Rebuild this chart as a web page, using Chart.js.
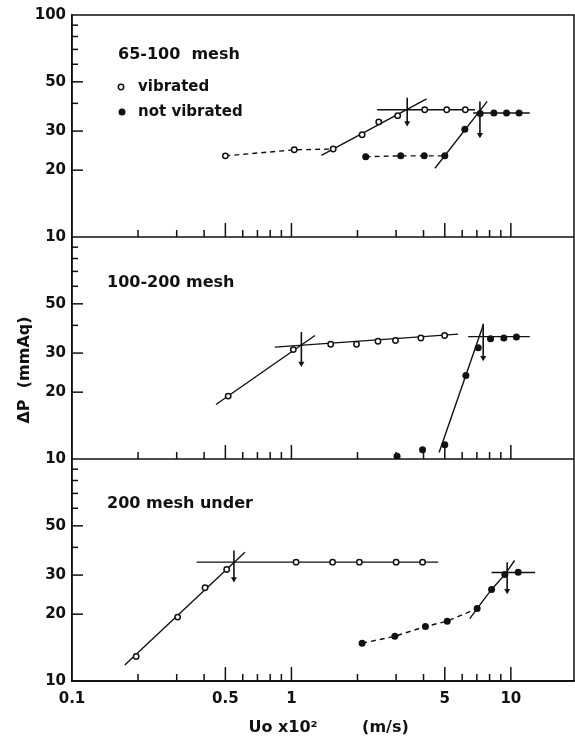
<!DOCTYPE html>
<html>
<head>
<meta charset="utf-8">
<title>Pressure drop vs superficial velocity</title>
<script src="https://cdn.jsdelivr.net/npm/chart.js@4/dist/chart.umd.min.js"></script>
<style>
  html, body { margin: 0; padding: 0; background: #fff; overflow: hidden; }
  .wrap { position: relative; width: 575px; height: 738px; }
</style>
</head>
<body>
<div class="wrap"><canvas id="dpCanvas"></canvas></div>
<script>
// Eixos e rótulos
const panelTitles = ['65-100  mesh', '100-200 mesh', '200 mesh under'];
const legendLabels = ['vibrated', 'not vibrated'];
const xTickLabels = [0.1, 0.5, 1, 5, 10];
const yTickLabels = [10, 20, 30, 50, 100];

// Painel 1: 65-100 mesh
const p1VibX = [0.5, 1.03, 1.55, 2.1, 2.5, 3.05, 4.05, 5.1, 6.2];
const p1VibY = [23.2, 24.7, 24.9, 28.9, 33.0, 35.2, 37.4, 37.4, 37.4];
const p1NvX = [2.18, 3.15, 4.03, 5.0, 6.17, 7.25, 8.37, 9.56, 10.9];
const p1NvY = [23.0, 23.2, 23.2, 23.2, 30.6, 36.0, 36.2, 36.2, 36.2];
const p1VibSlopeX = [1.37, 4.13], p1VibSlopeY = [23.3, 41.9];
const p1VibFlatX = [2.46, 6.86], p1VibFlatY = [37.4, 37.4];
const p1VibArrowX = [3.37, 3.37], p1VibArrowY = [42.4, 32.6];
const p1NvSlopeX = [4.51, 7.8], p1NvSlopeY = [20.4, 40.8];
const p1NvFlatX = [6.73, 12.2], p1NvFlatY = [36.2, 36.2];
const p1NvArrowX = [7.23, 7.23], p1NvArrowY = [40.8, 28.9];

// Painel 2: 100-200 mesh
const p2VibX = [0.515, 1.02, 1.51, 1.98, 2.48, 2.98, 3.89, 4.99];
const p2VibY = [19.2, 31.1, 32.9, 32.9, 33.9, 34.2, 35.1, 36.0];
const p2NvX = [3.03, 3.96, 5.0, 6.24, 7.1, 8.08, 9.29, 10.6];
const p2NvY = [10.3, 11.0, 11.6, 23.8, 31.7, 34.8, 35.1, 35.4];
const p2VibSlopeX = [0.453, 1.28], p2VibSlopeY = [17.6, 36.0];
const p2VibFlatX = [0.84, 5.75], p2VibFlatY = [31.9, 36.5];
const p2VibArrowX = [1.11, 1.11], p2VibArrowY = [37.3, 26.9];
const p2NvSlopeX = [4.71, 7.48], p2NvSlopeY = [10.7, 40.0];
const p2NvFlatX = [6.39, 12.2], p2NvFlatY = [35.6, 35.6];
const p2NvArrowX = [7.48, 7.48], p2NvArrowY = [40.7, 28.6];

// Painel 3: 200 mesh under
const p3VibX = [0.196, 0.303, 0.404, 0.507, 1.05, 1.54, 2.04, 3.0, 3.96];
const p3VibY = [12.9, 19.4, 26.3, 31.8, 34.3, 34.3, 34.3, 34.3, 34.3];
const p3NvX = [2.10, 2.96, 4.08, 5.13, 7.02, 8.17, 9.39, 10.8];
const p3NvY = [14.8, 15.9, 17.6, 18.6, 21.2, 25.8, 30.2, 30.9];
const p3VibSlopeX = [0.174, 0.614], p3VibSlopeY = [11.8, 38.0];
const p3VibFlatX = [0.37, 4.67], p3VibFlatY = [34.3, 34.3];
const p3VibArrowX = [0.547, 0.547], p3VibArrowY = [38.7, 28.8];
const p3NvCurveX = [6.5, 7.02, 8.17, 9.39, 10.4], p3NvCurveY = [19.1, 21.2, 25.8, 30.2, 34.9];
const p3NvFlatX = [8.17, 12.9], p3NvFlatY = [30.8, 30.8];
const p3NvArrowX = [9.62, 9.62], p3NvArrowY = [34.3, 25.5];

document.addEventListener('DOMContentLoaded', function() {
    const ink = '#111';
    const font = { family: 'DejaVu Sans', size: 15, weight: 'bold' };
    const panelIds = ['yTop', 'yMid', 'yBot'];

    const pts = (xs, ys) => xs.map((x, i) => ({ x: x, y: ys[i] }));

    // marcadores: aberto = vibrado, cheio = não vibrado
    function marks(xs, ys, axis, filled) {
        return {
            data: pts(xs, ys), yAxisID: axis, showLine: false, order: 0,
            pointStyle: 'circle',
            pointRadius: filled ? 3.5 : 2.7,
            pointBorderWidth: filled ? 0 : 1.5,
            pointBackgroundColor: filled ? ink : '#fff',
            pointBorderColor: ink
        };
    }
    function fit(xs, ys, axis, dashed, tension) {
        return {
            data: pts(xs, ys), yAxisID: axis, showLine: true, order: 1,
            borderColor: ink, borderWidth: 1.4,
            borderDash: dashed ? [5, 4] : [],
            tension: tension || 0, pointRadius: 0
        };
    }
    function arrow(xs, ys, axis) {
        return {
            data: pts(xs, ys), yAxisID: axis, showLine: true, order: 1,
            borderColor: ink, borderWidth: 1.6,
            pointStyle: 'triangle', pointRotation: 180,
            pointRadius: ctx => ctx.dataIndex === 1 ? 3.5 : 0,
            pointBackgroundColor: ink, pointBorderColor: ink, pointBorderWidth: 0
        };
    }

    const datasets = [
        marks(p1VibX, p1VibY, 'yTop', false),
        marks(p1NvX, p1NvY, 'yTop', true),
        fit(p1VibX.slice(0, 3), p1VibY.slice(0, 3), 'yTop', true),
        fit(p1NvX.slice(0, 4), p1NvY.slice(0, 4), 'yTop', true),
        fit(p1VibSlopeX, p1VibSlopeY, 'yTop'),
        fit(p1VibFlatX, p1VibFlatY, 'yTop'),
        arrow(p1VibArrowX, p1VibArrowY, 'yTop'),
        fit(p1NvSlopeX, p1NvSlopeY, 'yTop'),
        fit(p1NvFlatX, p1NvFlatY, 'yTop'),
        arrow(p1NvArrowX, p1NvArrowY, 'yTop'),

        marks(p2VibX, p2VibY, 'yMid', false),
        marks(p2NvX, p2NvY, 'yMid', true),
        fit(p2VibSlopeX, p2VibSlopeY, 'yMid'),
        fit(p2VibFlatX, p2VibFlatY, 'yMid'),
        arrow(p2VibArrowX, p2VibArrowY, 'yMid'),
        fit(p2NvSlopeX, p2NvSlopeY, 'yMid'),
        fit(p2NvFlatX, p2NvFlatY, 'yMid'),
        arrow(p2NvArrowX, p2NvArrowY, 'yMid'),

        marks(p3VibX, p3VibY, 'yBot', false),
        marks(p3NvX, p3NvY, 'yBot', true),
        fit(p3VibSlopeX, p3VibSlopeY, 'yBot'),
        fit(p3VibFlatX, p3VibFlatY, 'yBot'),
        arrow(p3VibArrowX, p3VibArrowY, 'yBot'),
        fit(p3NvX.slice(0, 5), p3NvY.slice(0, 5), 'yBot', true),
        fit(p3NvCurveX, p3NvCurveY, 'yBot', false, 0.3),
        fit(p3NvFlatX, p3NvFlatY, 'yBot'),
        arrow(p3NvArrowX, p3NvArrowY, 'yBot')
    ];

    // traços de escala do eixo x: 0.1 .. 0.9, 1 .. 9, 10
    const xTicks = [];
    [0.1, 1].forEach(m => {
        for (let d = 1; d <= 9; d++) xTicks.push(+(d * m).toFixed(1));
    });
    xTicks.push(10);

    function panelAxis(i) {
        return {
            type: 'logarithmic', position: 'left',
            stack: 'panels', stackWeight: 1,
            min: 10, max: 100,
            grid: { display: false, drawTicks: false },
            border: { display: true, color: ink, width: 1.5 },
            ticks: {
                autoSkip: false, padding: 6, font: font, color: ink,
                callback: function(v) {
                    if (v === 100 && i > 0) return '';
                    return yTickLabels.includes(v) ? String(v) : '';
                }
            },
            afterFit: s => { s.width = 72; }
        };
    }

    // moldura, traços internos e textos
    const framePlugin = {
        id: 'frame',
        afterDraw(chart) {
            const { ctx, chartArea: a, scales } = chart;
            const xs = scales.x;
            const line = (x1, y1, x2, y2) => {
                ctx.beginPath(); ctx.moveTo(x1, y1); ctx.lineTo(x2, y2); ctx.stroke();
            };
            ctx.save();
            ctx.strokeStyle = ink;
            ctx.fillStyle = ink;
            ctx.lineWidth = 1.5;
            ctx.strokeRect(a.left, a.top, a.right - a.left, a.bottom - a.top);

            const titleX = [118, 107, 107];
            const titleDy = [40, 46, 45];
            panelIds.forEach((id, i) => {
                const ys = scales[id];
                line(a.left, ys.bottom, a.right, ys.bottom);
                // só 20, 30, ... 90 (sem 11..19)
                ys.ticks.forEach(t => {
                    if (t.value <= 10 || t.value >= 100 || t.value % 10 !== 0) return;
                    const py = ys.getPixelForValue(t.value);
                    line(a.left, py, a.left + (yTickLabels.includes(t.value) ? 11 : 6), py);
                });
                xs.ticks.forEach(t => {
                    if (t.value <= 0.1) return;
                    const px = xs.getPixelForValue(t.value);
                    line(px, ys.bottom, px, ys.bottom - (xTickLabels.includes(t.value) ? 14 : 7));
                });
                ctx.font = 'bold 16px "DejaVu Sans"';
                ctx.textBaseline = 'middle';
                ctx.textAlign = 'left';
                ctx.fillText(panelTitles[i], titleX[i], ys.top + titleDy[i]);
            });

            // legenda dentro do primeiro painel
            const top = scales.yTop.top;
            ctx.font = 'bold 15px "DejaVu Sans"';
            ctx.lineWidth = 1.5;
            ctx.beginPath(); ctx.arc(121, top + 72, 2.7, 0, Math.PI * 2); ctx.stroke();
            ctx.beginPath(); ctx.arc(122, top + 97, 3.5, 0, Math.PI * 2); ctx.fill();
            ctx.fillText(legendLabels[0], 138, top + 72);
            ctx.fillText(legendLabels[1], 138, top + 97);

            // título do eixo y
            ctx.translate(25, (a.top + a.bottom) / 2 + 22);
            ctx.rotate(-Math.PI / 2);
            ctx.textAlign = 'center';
            ctx.font = 'bold 16px "DejaVu Sans"';
            ctx.fillText('ΔP  (mmAq)', 0, 0);
            ctx.restore();
        }
    };

    const canvas = document.getElementById('dpCanvas');
    new Chart(canvas.getContext('2d'), {
        type: 'scatter',
        data: { datasets: datasets },
        options: {
            responsive: true,
            maintainAspectRatio: false,
            animation: false,
            layout: {
                autoPadding: false,
                padding: { top: 15, right: 1, left: 0, bottom: 0 }
            },
            plugins: {
                legend: { display: false },
                tooltip: { enabled: false }
            },
            scales: {
                x: {
                    type: 'logarithmic',
                    min: 0.1, max: 19.4,
                    grid: { display: false, drawTicks: false },
                    border: { display: true, color: ink, width: 1.5 },
                    afterBuildTicks: s => { s.ticks = xTicks.map(v => ({ value: v })); },
                    ticks: {
                        autoSkip: false, maxRotation: 0, padding: 9,
                        font: font, color: ink,
                        callback: v => xTickLabels.includes(v) ? String(v) : ''
                    },
                    title: {
                        display: true,
                        text: '  Uo x10²        (m/s)',
                        color: ink,
                        font: { family: 'DejaVu Sans', size: 16, weight: 'bold' },
                        padding: { top: 0, bottom: 1 }
                    },
                    afterFit: s => {
                        s.height = 57;
                        s.paddingLeft = 0;
                        s.paddingRight = 0;
                    }
                },
                yBot: panelAxis(2),
                yMid: panelAxis(1),
                yTop: panelAxis(0)
            }
        },
        plugins: [framePlugin]
    });
});
</script>
</body>
</html>
